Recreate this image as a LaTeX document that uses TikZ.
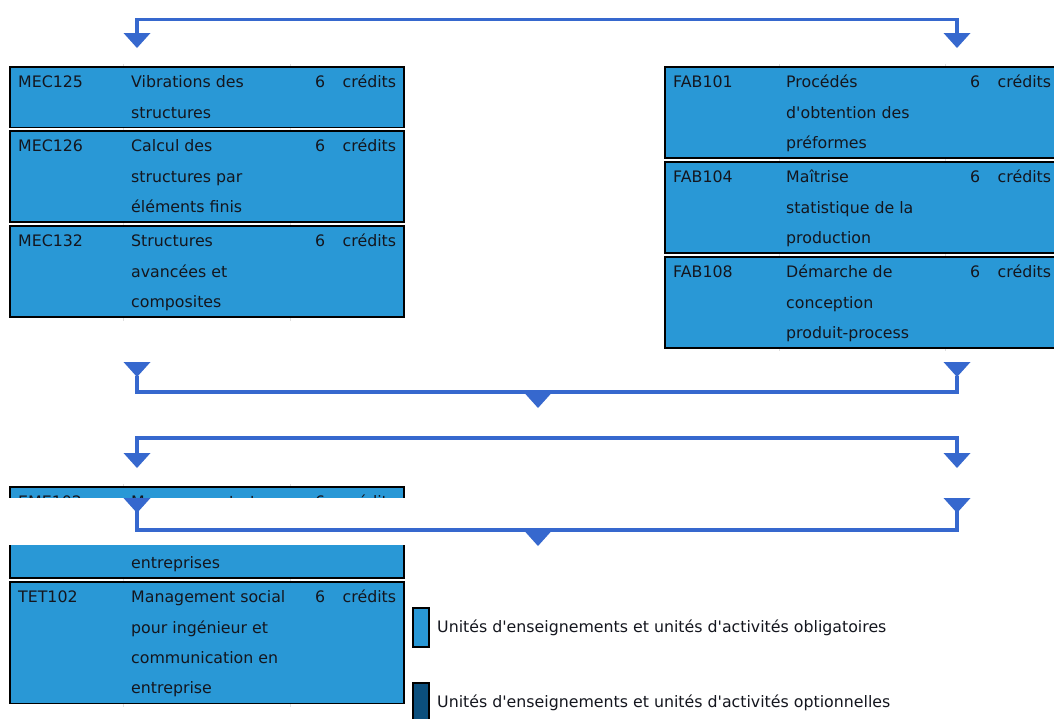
\documentclass[tikz,border=0pt]{standalone}
\usepackage{fontspec}
\newfontfamily\vfont{DejaVu Sans}
\usetikzlibrary{calc}
\definecolor{boxblue}{RGB}{41,152,214}
\definecolor{darkblue}{RGB}{11,79,125}
\definecolor{connblue}{RGB}{54,104,206}
\definecolor{txt}{RGB}{20,22,30}
\tikzset{
  cbox/.style={draw=black, line width=1.4pt, fill=boxblue, minimum width=394pt, inner sep=0pt, outer sep=0pt},
  legbox/.style={draw=black, line width=1.4pt, minimum width=16pt, minimum height=39pt, inner sep=0pt, outer sep=0pt, anchor=north west},
  ctext/.style={font=\vfont\fontsize{15.8}{30}\selectfont, text=txt, inner sep=0pt},
  conn/.style={draw=connblue, line width=3.2pt},
  gridline/.style={draw=gray!25, line width=0.7pt},
}
\newcommand\dtri[2]{\fill[connblue] ({#1-13.5},#2) -- ++(27,0) -- ++(-13.5,15) -- cycle;}
\newcommand\coursebox[6]{%
  \node[cbox, minimum height={#4*30.3}, anchor=north west] (#1) at (#2,#3) {};
  \node[ctext, anchor=base west] (#1-code) at ($(#1.north west)+(8,20.8)$) {#5};
  \node[ctext, anchor=base west] (#1-ects) at ($(#1.north west)+(305,20.8)$) {6};
  \node[ctext, anchor=base west] (#1-cred) at ($(#1.north west)+(332.5,20.8)$) {crédits};
  \foreach \t [count=\i from 0] in {#6} {\node[ctext, anchor=base west] (#1-t\i) at ($(#1.north west)+(121,{20.8+30.3*\i})$) {\t};}
}
\begin{document}
\begin{tikzpicture}[x=1pt,y=-1pt]
\useasboundingbox (0,0) rectangle (1054,718);

% faint table grid lines
\draw[gridline] (123,64) -- (123,321);
\draw[gridline] (290,64) -- (290,321);
\draw[gridline] (779,64) -- (779,351);
\draw[gridline] (945,64) -- (945,351);
\draw[gridline] (123,484) -- (123,707);
\draw[gridline] (290,484) -- (290,707);

% top split
\coordinate (s1L) at (137,34);
\coordinate (s1R) at (957,34);
\coordinate (s1M) at (547,19.5);
\draw[conn] (s1L) |- (s1M) -| (s1R);
\dtri{137}{33}
\dtri{957}{33}

% course boxes
\coursebox{mec125}{10}{67}{2}{MEC125}{Vibrations des,structures}
\coursebox{mec126}{10}{131}{3}{MEC126}{Calcul des,structures par,éléments finis}
\coursebox{mec132}{10}{226}{3}{MEC132}{Structures,avancées et,composites}
\coursebox{fab101}{665}{67}{3}{FAB101}{Procédés,d'obtention des,préformes}
\coursebox{fab104}{665}{162}{3}{FAB104}{Maîtrise,statistique de la,production}
\coursebox{fab108}{665}{257}{3}{FAB108}{Démarche de,conception,produit-process}

% first merge
\dtri{137}{362}
\dtri{957}{362}
\coordinate (m1L) at (137,376);
\coordinate (m1R) at (957,376);
\coordinate (m1M) at (538,392);
\coordinate (m1E) at (538,394);
\draw[conn] (m1L) |- (m1M) -| (m1R);
\draw[conn] (m1M) -- (m1E);
\dtri{538}{393}

% second split
\coordinate (s2L) at (137,454);
\coordinate (s2R) at (957,454);
\coordinate (s2M) at (547,438);
\draw[conn] (s2L) |- (s2M) -| (s2R);
\dtri{137}{453}
\dtri{957}{453}

% EME and TET boxes
\coursebox{eme102}{10}{487}{3}{EME102}{Management et,,entreprises}
\fill[white] (7,497.5) rectangle (408,545);
\coursebox{tet102}{10}{582}{4}{TET102}{Management social,pour ingénieur et,communication en,entreprise}

% second merge (over the EME box)
\dtri{137}{498}
\dtri{957}{498}
\coordinate (m2L) at (137,511);
\coordinate (m2R) at (957,511);
\coordinate (m2M) at (538,530);
\coordinate (m2E) at (538,532);
\draw[conn] (m2L) |- (m2M) -| (m2R);
\draw[conn] (m2M) -- (m2E);
\dtri{538}{531}

% legend
\node[legbox, fill=boxblue] (leg1) at (413,608) {};
\node[ctext, anchor=base west] (leg1t) at (437,632.7) {Unités d'enseignements et unités d'activités obligatoires};
\node[legbox, fill=darkblue] (leg2) at (413,683) {};
\node[ctext, anchor=base west] (leg2t) at (437,707.7) {Unités d'enseignements et unités d'activités optionnelles};
\end{tikzpicture}
\end{document}
